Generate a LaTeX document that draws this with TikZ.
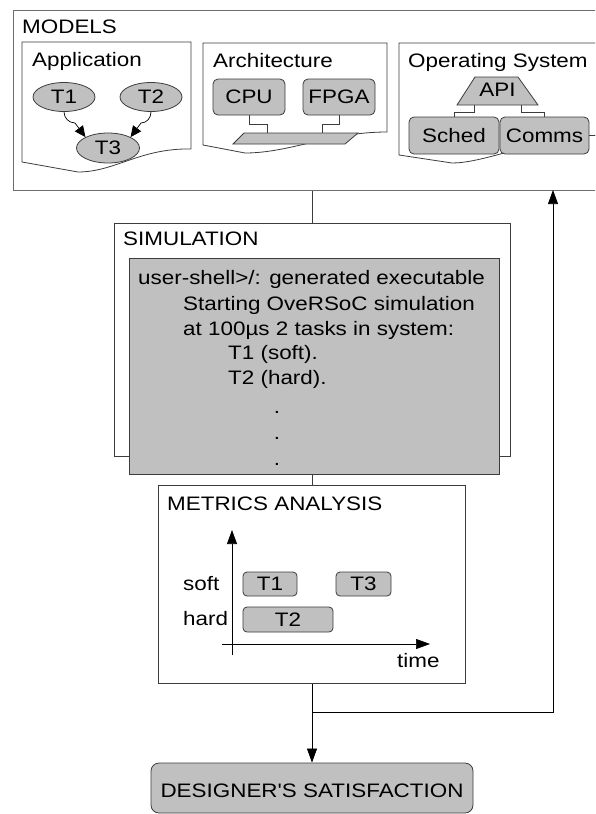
\documentclass[tikz,border=0pt]{standalone}
\usepackage{fontspec}
\setmainfont[FakeStretch=1.15, Ligatures=TeXOff]{Liberation Sans}
\usetikzlibrary{arrows.meta,shapes.geometric}
\definecolor{boxgray}{RGB}{192,192,192}
\definecolor{edge}{RGB}{60,60,60}
\definecolor{frameedge}{RGB}{110,110,110}

\begin{document}
\begin{tikzpicture}[x=1pt,y=-1pt,
  font=\fontsize{19.5}{23}\selectfont,
  outline/.style={draw=edge, line width=0.8pt},
  frame/.style={outline, fill=white, inner sep=0pt, anchor=north west},
  part/.style={outline, fill=boxgray, rounded corners=5pt, inner sep=0pt},
  bar/.style={outline, fill=boxgray, rounded corners=4pt, inner sep=0pt},
  task/.style={outline, fill=boxgray, ellipse, inner sep=0pt},
  lbl/.style={anchor=base west, inner sep=0pt},
  wire/.style={draw=black, line width=0.7pt},
  arr/.style={wire, -{Triangle[length=14pt,width=10pt]}},
  smallarr/.style={wire, -{Triangle[length=11pt,width=10pt]}},
]
\useasboundingbox (0,0) rectangle (595,814);
\clip (0,0) rectangle (595,814);

% ---------------- MODELS ----------------
\node[frame, draw=frameedge, line width=1.3pt, minimum width=620pt, minimum height=180pt] (models) at (13,10) {};
\node[lbl] (modelsLbl) at (22,33) {MODELS};

% Application sheet
\draw[outline, fill=white] (22,42) -- (191,42) -- (191,149)
  .. controls (140,148) and (115,172) .. (78,172) -- (22,162) -- cycle;
\node[lbl] (appLbl) at (32,66) {Application};
\node[task, minimum width=62pt, minimum height=29pt] (t1) at (64,97) {T1};
\node[task, minimum width=62pt, minimum height=29pt] (t2) at (151,97) {T2};
\node[task, minimum width=63pt, minimum height=30pt] (t3) at (108,148) {T3};
\coordinate (t1bend) at (75,123);
\coordinate (t2bend) at (141,123);
\draw[smallarr] (t1.south) to[out=-90,in=180] (t1bend) -- (t3.north west);
\draw[smallarr] (t2.south) to[out=-90,in=0] (t2bend) -- (t3.north east);

% Architecture sheet
\draw[outline, fill=white] (203,43) -- (387,43) -- (387,132)
  .. controls (330,132) and (290,153) .. (245,153) -- (203,145) -- cycle;
\node[lbl] (archLbl) at (213,67) {Architecture};
\node[part, minimum width=72pt, minimum height=36pt] (cpu) at (249,97) {CPU};
\node[part, minimum width=72pt, minimum height=36pt] (fpga) at (339,97) {FPGA};
\draw[outline, fill=boxgray] (233,144) -- (244,133) -- (358,133) -- (345,144) -- cycle;
\coordinate (busA) at (267,133);
\coordinate (busB) at (322,133);
\draw[outline] (cpu.south) -- ++(0,9) -| (busA);
\draw[outline] (fpga.south) -- ++(0,9) -| (busB);

% Operating system sheet
\draw[outline, fill=white] (399,43) -- (620,43) -- (620,135.5) -- (575,135.5)
  .. controls (520,146) and (480,163) .. (452,163) -- (399,155) -- cycle;
\node[lbl] (osLbl) at (408,67) {Operating System};
\draw[outline, fill=boxgray] (457,105) -- (475,77) -- (518,77) -- (538,105) -- cycle;
\node[inner sep=0pt] (api) at (497.5,90) {API};
\coordinate (apiL) at (474,105);
\coordinate (apiR) at (521,105);
\node[part, minimum width=90pt, minimum height=37pt] (sched) at (454,135.5) {Sched};
\node[part, minimum width=89pt, minimum height=37pt] (comms) at (544.5,135.5) {Comms};
\draw[outline] (apiL) -- ++(0,7) -| (sched.north);
\draw[outline] (apiR) -- ++(0,7) -| (comms.north);
\draw[outline] (comms.east) -- ++(12,0);

% ---------------- SIMULATION ----------------
\node[frame, minimum width=396pt, minimum height=233pt] (sim) at (114,223) {};
\node[lbl] (simLbl) at (123,245) {SIMULATION};
\node[frame, fill=boxgray, minimum width=370pt, minimum height=216pt] (term) at (129,258) {};
\node[lbl] (line1) at (138,284) {user-shell>/: generated executable};
\node[lbl] (line2) at (183,310) {Starting OveRSoC simulation};
\node[lbl] (line3) at (183,335) {at 100µs 2 tasks in system:};
\node[lbl] (line4) at (228,359) {T1 (soft).};
\node[lbl] (line5) at (228,384) {T2 (hard).};
\node[anchor=base, inner sep=0pt] (dot1) at (277,413) {.};
\node[anchor=base, inner sep=0pt] (dot2) at (277,439) {.};
\node[anchor=base, inner sep=0pt] (dot3) at (277,465) {.};

% ---------------- METRICS ANALYSIS ----------------
\node[frame, minimum width=307pt, minimum height=198pt] (metrics) at (158,485) {};
\node[lbl] (metLbl) at (167,510) {METRICS ANALYSIS};
\coordinate (yfoot) at (232,655);
\coordinate (ytip) at (232,530);
\coordinate (xfoot) at (222,644);
\coordinate (xtip) at (430,644);
\draw[arr] (yfoot) -- (ytip);
\draw[arr] (xfoot) -- (xtip);
\node[lbl] (softLbl) at (183,590) {soft};
\node[lbl] (hardLbl) at (183,625) {hard};
\node[bar, minimum width=54pt, minimum height=24pt] (g1) at (270,584) {T1};
\node[bar, minimum width=55pt, minimum height=24pt] (g3) at (363.5,584) {T3};
\node[bar, minimum width=90pt, minimum height=25pt] (g2) at (288,619.5) {T2};
\node[lbl] (timeLbl) at (397,667) {time};

% ---------------- DESIGNER'S SATISFACTION ----------------
\node[part, minimum width=322pt, minimum height=50pt, rounded corners=8pt] (designer) at (312,788) {};
\node[anchor=base, inner sep=0pt] (desLbl) at (312,797) {DESIGNER'S SATISFACTION};

% ---------------- flow ----------------
\draw[outline] (models.south -| sim.north) -- (sim.north);
\draw[outline] (term.south -| metrics.north) -- (metrics.north);
\coordinate (split) at (312,712);
\coordinate (back) at (553,190);
\draw[arr] (metrics.south -| split) -- (designer.north -| split);
\draw[arr] (split) -| (back);
\end{tikzpicture}
\end{document}
